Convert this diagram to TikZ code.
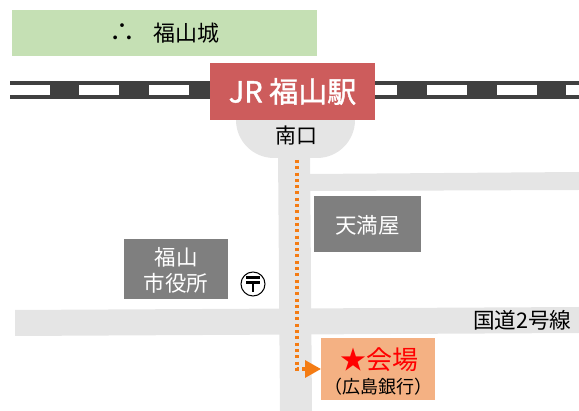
\documentclass[tikz,border=0pt]{standalone}
\usepackage{fontspec}
\setmainfont{Noto Sans CJK JP}
\newfontfamily\stationfont[FakeBold=1.5]{Noto Sans CJK JP}
\usetikzlibrary{arrows.meta}
\definecolor{roadgrey}{HTML}{E5E5E5}
\definecolor{railgrey}{HTML}{404040}
\definecolor{castlegreen}{HTML}{C5E0B4}
\definecolor{stationred}{HTML}{CD5C5C}
\definecolor{bldgrey}{HTML}{7F7F7F}
\definecolor{venuefill}{HTML}{F4B183}
\definecolor{routeorange}{HTML}{F47C14}
\newcommand{\fs}[1]{\fontsize{#1}{#1}\selectfont}
\tikzset{
  box/.style={inner sep=0pt,outer sep=0pt,align=center,anchor=center},
  building/.style={box,fill=bldgrey},
  buildtext/.style={box,text=white,font=\fs{21.5}},
  road/.style={fill=roadgrey,draw=none},
  railwhite/.style={fill=white,draw=none},
  route/.style={draw=routeorange,line width=3.2pt,dash pattern=on 3pt off 3.3pt,
    -{Triangle[length=16pt,width=17pt,fill=routeorange,sep=0pt]}},
  postline/.style={draw=black,line width=2.1pt},
}
\begin{document}
\begin{tikzpicture}[x=1pt,y=-1pt]
\useasboundingbox (0,0) rectangle (579,411);
% roads
\fill[road] (278,150) -- (310,150) -- (312,411) -- (280,411) -- cycle;
\fill[road] (310,174) -- (579,172) -- (579,190) -- (310,191) -- cycle;
\fill[road] (15,310) -- (579,307) -- (579,333) -- (15,336) -- cycle;
\fill[road] (236,110) -- (355,110) -- (355,120) arc[start angle=0,end angle=90,radius=38] -- (274,158) arc[start angle=90,end angle=180,radius=38] -- cycle;
% railway
\fill[railgrey] (10,81) rectangle (579,99);
\foreach \xa/\xb in {10/50,79/119,149/189,358/397,427/467,497/537,566/579}
  \fill[railwhite] (\xa,85.5) rectangle (\xb,95);
% castle
\node[box,fill=castlegreen,minimum width=305pt,minimum height=46pt] (castle) at (164.5,33) {};
\node[box,font=\fs{26}] (castlemark) at (122.5,33) {∴};
\node[box,font=\fs{22}] (castlename) at (186,33) {福山城};
% station
\node[box,fill=stationred,text=white,minimum width=165pt,minimum height=57pt,font=\fs{29}] (station) at (292.5,91.5) {\stationfont JR 福山駅};
\node[box,font=\fs{21}] (south) at (296.5,136) {南口};
% buildings
\node[building,minimum width=107pt,minimum height=56pt] (tenmaya) at (367.5,224) {};
\node[buildtext] (tenmayaname) at (367.5,225) {天満屋};
\node[building,minimum width=104pt,minimum height=60pt] (cityhall) at (176,269) {};
\node[buildtext] (cityhalla) at (176,257) {福山};
\node[buildtext] (cityhallb) at (176,283) {市役所};
% post office
\node[circle,draw=black,line width=1pt,fill=white,minimum size=24pt,inner sep=0pt] (post) at (253,284) {};
\draw[postline] ([shift={(-7,-6.5)}]post.center) -- ([shift={(7,-6.5)}]post.center);
\draw[postline] ([shift={(-7,-1.5)}]post.center) -- ([shift={(7,-1.5)}]post.center);
\draw[postline] ([shift={(0,-1.5)}]post.center) -- ([shift={(0,8.5)}]post.center);
% road label
\node[box,font=\fs{21.6},anchor=east] (route2) at (571.5,320) {国道2号線};
% venue
\node[box,fill=venuefill,minimum width=114pt,minimum height=62pt] (venue) at (378,369) {};
\node[box,font=\fs{26},text=red] (venuename) at (379,360) {★会場};
\node[box,font=\fs{18}] (venuebank) at (378,387) {（広島銀行）};
% route
\coordinate (routestart) at (297,160);
\coordinate (routecorner) at (297,369);
\draw[route] (routestart) -- (routecorner) -- (venue.west);
\end{tikzpicture}
\end{document}
